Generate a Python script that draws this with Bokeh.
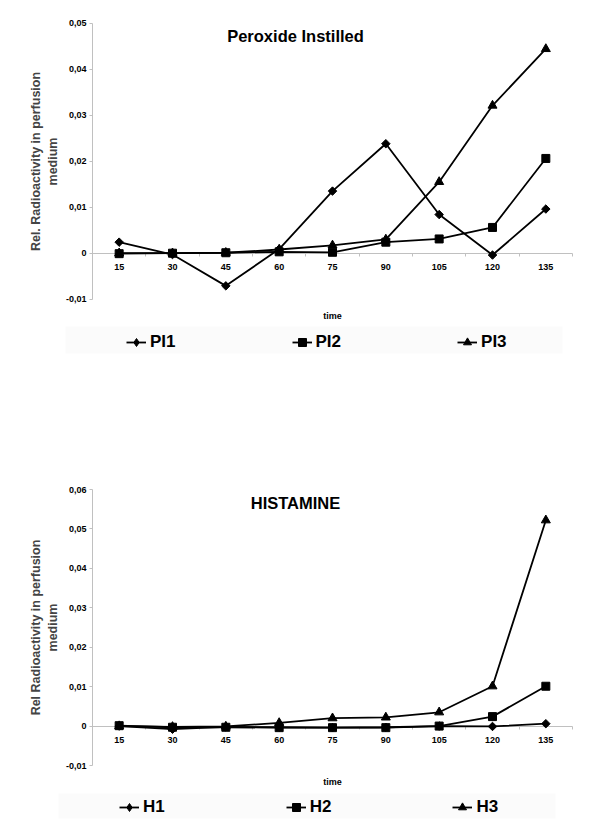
import math
from bokeh.plotting import figure
from bokeh.models import (Range1d, LinearAxis, FixedTicker, CustomJSTickFormatter, Label,
                          Legend, LegendItem, BoxAnnotation)
from bokeh.layouts import column
from bokeh.embed import file_html
from bokeh.resources import INLINE

# ---------------- data ----------------
time = [15, 30, 45, 60, 75, 90, 105, 120, 135]

pi1 = [0.0024, -0.0003, -0.0071, 0.0009, 0.0135, 0.0238, 0.0084, -0.0004, 0.0096]
pi2 = [-0.0001, 0.0000, 0.0001, 0.0003, 0.0002, 0.0024, 0.0031, 0.0056, 0.0206]
pi3 = [0.0000, 0.0000, 0.0001, 0.0008, 0.0017, 0.0030, 0.0155, 0.0321, 0.0444]

h1 = [0.0000, -0.0008, -0.0002, -0.0003, -0.0004, -0.0003, 0.0000, -0.0001, 0.0006]
h2 = [0.0001, -0.0003, -0.0003, -0.0004, -0.0004, -0.0004, 0.0000, 0.0024, 0.0101]
h3 = [0.0000, -0.0002, -0.0001, 0.0008, 0.0020, 0.0022, 0.0035, 0.0101, 0.0522]

top_names = ["PI1", "PI2", "PI3"]
bottom_names = ["H1", "H2", "H3"]

top_y_ticks = [-0.01, 0.0, 0.01, 0.02, 0.03, 0.04, 0.05]
top_y_labels = ["-0,01", "0", "0,01", "0,02", "0,03", "0,04", "0,05"]
bottom_y_ticks = [-0.01, 0.0, 0.01, 0.02, 0.03, 0.04, 0.05, 0.06]
bottom_y_labels = ["-0,01", "0", "0,01", "0,02", "0,03", "0,04", "0,05", "0,06"]

top_title = "Peroxide Instilled"
bottom_title = "HISTAMINE"
top_ylabel = "Rel. Radioactivity in perfusion\nmedium"
bottom_ylabel = "Rel Radioactivity in perfusion\nmedium"
xlabel = "time"

# ---------------- style / layout (pixels) ----------------
FONT = "Liberation Sans"
GRAY = "#c0c0c0"
W = 600
AX_LEFT, AX_RIGHT = 92, 572      # x pixel span of the category axis


def make_chart(title, ylabel, series, names, y_ticks, y_labels, height,
               ax_top, ax_bottom, title_xy, xlabel_y, legend_vx, legend_vy,
               legend_spacing, bg_box):
    """ax_top / ax_bottom: pixel rows (inside this figure) of the top and bottom y ticks."""
    step = time[1] - time[0]
    x0, x1 = time[0] - step / 2, time[-1] + step / 2
    y0, y1 = y_ticks[0], y_ticks[-1]
    kx = (x1 - x0) / (AX_RIGHT - AX_LEFT)
    ky = (y1 - y0) / (ax_bottom - ax_top)

    def dx(px):
        return x0 + (px - AX_LEFT) * kx

    def dy(py):
        return y1 - (py - ax_top) * ky

    p = figure(width=W, height=height,
               x_range=Range1d(dx(0), dx(W)), y_range=Range1d(dy(height), dy(0)),
               output_backend="svg", toolbar_location=None,
               x_axis_type=None, y_axis_type=None,
               min_border=0, min_border_left=0, min_border_right=0,
               min_border_top=0, min_border_bottom=0)
    p.outline_line_color = None
    p.background_fill_color = "white"
    p.border_fill_color = "white"

    # legend background (very light grey band)
    bl, br, bt, bb = bg_box
    p.add_layout(BoxAnnotation(left=dx(bl), right=dx(br), top=dy(bt), bottom=dy(bb),
                               fill_color="#fbfbfb", fill_alpha=1.0, line_color=None,
                               level="underlay"))

    # y axis
    yaxis = LinearAxis(
        fixed_location=x0, bounds=(y0, y1),
        ticker=FixedTicker(ticks=y_ticks),
        formatter=CustomJSTickFormatter(
            args=dict(tvals=y_ticks, tlabels=y_labels),
            code="const i = tvals.findIndex(t => Math.abs(t - tick) < 1e-9); return i >= 0 ? tlabels[i] : '';"),
        axis_label=ylabel,
        axis_label_text_font=FONT, axis_label_text_font_style="bold",
        axis_label_text_font_size="12.5px", axis_label_standoff=3,
        major_label_text_font=FONT, major_label_text_font_style="bold",
        major_label_text_font_size="9px", major_label_text_color="black",
        major_label_standoff=3,
        axis_line_color=GRAY, major_tick_line_color=GRAY,
        major_tick_out=3, major_tick_in=0,
        minor_tick_line_color=None, level="underlay")
    p.add_layout(yaxis, "left")

    # x axis crossing at y = 0, tick marks between categories
    edges = [t + step / 2 for t in time]
    xaxis = LinearAxis(
        fixed_location=0, bounds=(x0, x1),
        ticker=FixedTicker(ticks=time, minor_ticks=edges),
        major_label_text_font=FONT, major_label_text_font_style="bold",
        major_label_text_font_size="9px", major_label_text_color="black",
        major_label_standoff=8,
        axis_line_color=GRAY,
        major_tick_line_color=None, major_tick_out=0, major_tick_in=0,
        minor_tick_line_color=GRAY, minor_tick_out=3, minor_tick_in=0,
        level="underlay")
    p.add_layout(xaxis, "below")

    # plot markers, and the marker shown for each series in the legend
    plot_markers = [dict(marker="square", angle=math.pi / 4, size=6),
                    dict(marker="square", angle=0, size=8),
                    dict(marker="triangle", angle=0, size=9)]
    legend_markers = ["diamond", "square", "triangle"]
    items = []
    for vals, name, mk, lmk in zip(series, names, plot_markers, legend_markers):
        rl = p.line(time, vals, line_color="black", line_width=1.8)
        p.scatter(time, vals, marker=mk["marker"], angle=mk["angle"], size=mk["size"],
                  fill_color="black", line_color="black", line_width=1)
        # legend-only glyph (a single undrawn NaN point) so the key shows the marker shape
        rk = p.scatter([time[0]], [float("nan")], marker=lmk, size=8, fill_color="black",
                       line_color="black", line_width=1)
        items.append(LegendItem(label=name, renderers=[rl, rk]))

    legend = Legend(items=items, location=(legend_vx, legend_vy), orientation="horizontal",
                    padding=0, margin=0, spacing=legend_spacing,
                    glyph_width=20, glyph_height=20, label_height=20, label_standoff=4,
                    label_text_font=FONT, label_text_font_style="bold",
                    label_text_font_size="17px", label_text_color="black",
                    background_fill_alpha=0, border_line_color=None)
    p.add_layout(legend, "center")

    # chart title inside the plot area
    tx, ty = title_xy
    p.add_layout(Label(x=dx(tx), y=dy(ty), text=title,
                       text_font=FONT, text_font_style="bold", text_font_size="16.5px",
                       text_align="center", text_baseline="middle", text_color="black"))
    # x axis title
    p.add_layout(Label(x=(x0 + x1) / 2, y=dy(xlabel_y), text=xlabel,
                       text_font=FONT, text_font_style="bold", text_font_size="9px",
                       text_align="center", text_baseline="middle", text_color="black"))
    return p


H1, H2 = 408, 420
p1 = make_chart(top_title, top_ylabel, [pi1, pi2, pi3], top_names,
                top_y_ticks, top_y_labels, height=H1, ax_top=22.7, ax_bottom=298.7,
                title_xy=(295, 35), xlabel_y=315,
                legend_vx=126, legend_vy=H1 - 352, legend_spacing=116,
                bg_box=(65, 562, 326, 353))
p2 = make_chart(bottom_title, bottom_ylabel, [h1, h2, h3], bottom_names,
                bottom_y_ticks, bottom_y_labels, height=H2,
                ax_top=489 - H1, ax_bottom=765 - H1,
                title_xy=(295, 502 - H1), xlabel_y=781 - H1,
                legend_vx=119, legend_vy=H2 - (817 - H1), legend_spacing=121,
                bg_box=(58, 555, 793 - H1, 818 - H1))

layout = column(p1, p2, spacing=0)
open("out.html", "w").write(file_html(layout, INLINE))
